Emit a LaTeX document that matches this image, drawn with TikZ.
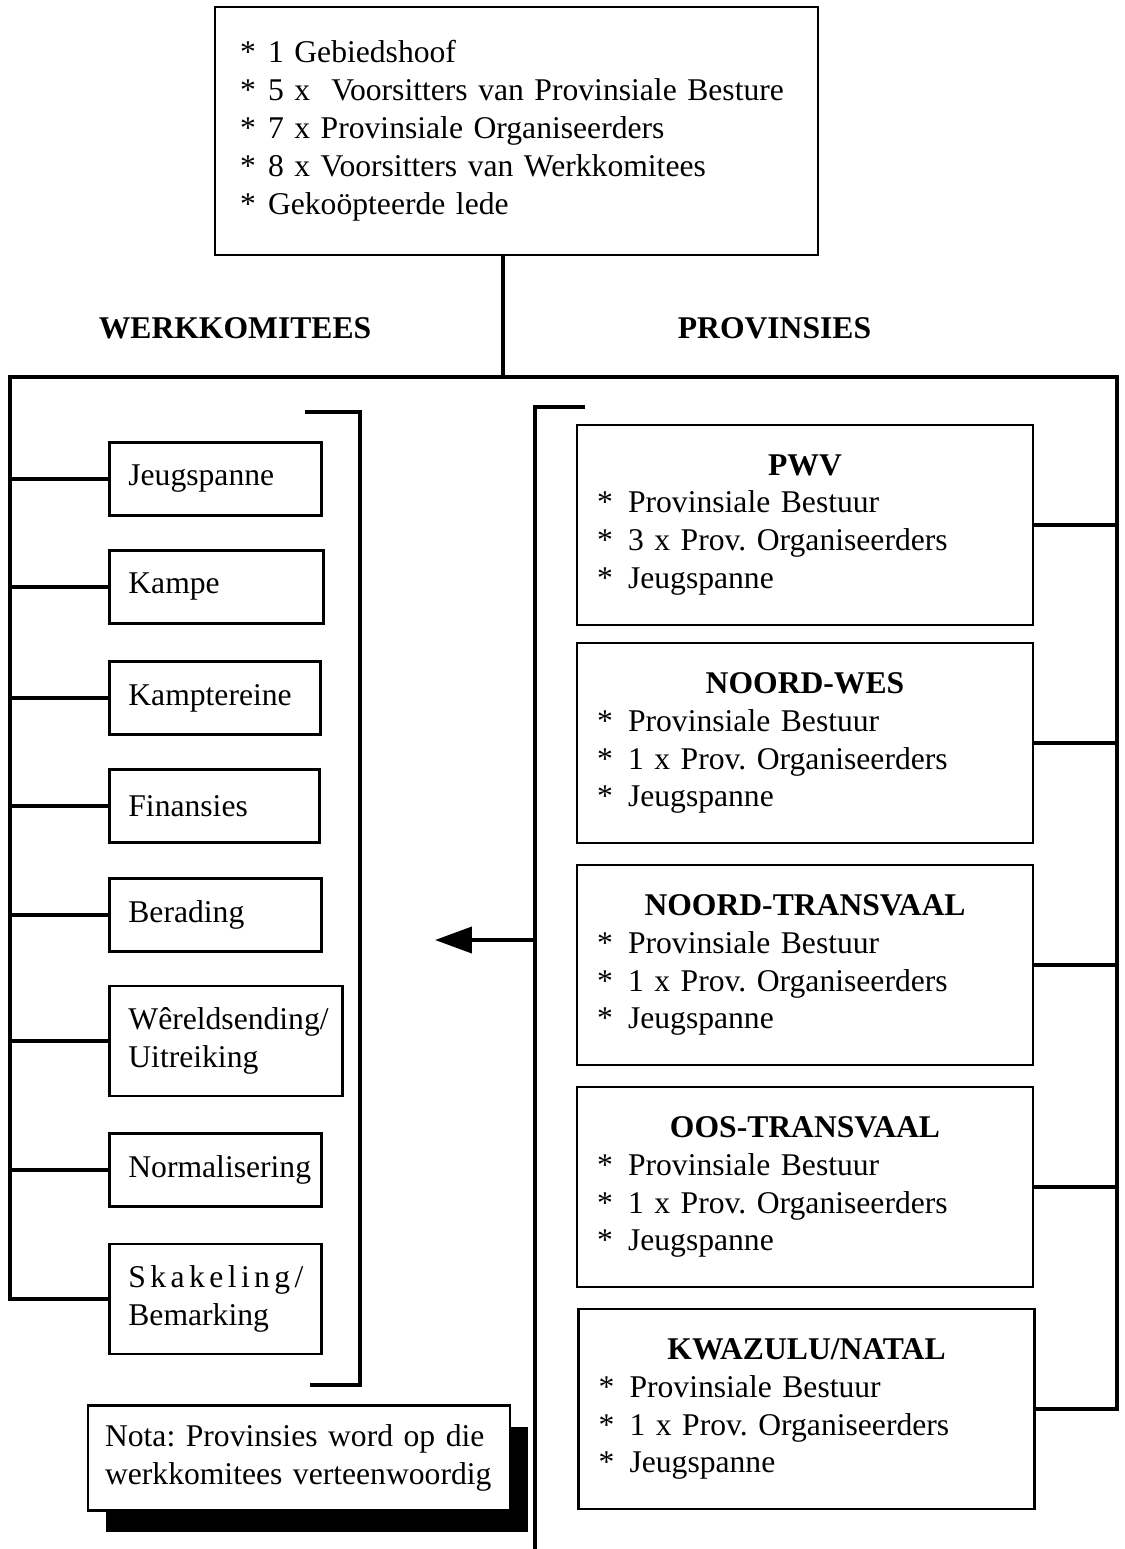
\documentclass[tikz,border=0pt]{standalone}
\usepackage{fontspec}
\setmainfont{Liberation Serif}
\usetikzlibrary{arrows.meta,shadows}
\hyphenpenalty=10000
\frenchspacing
\tikzset{
  box/.style={draw,line width=1.6pt,fill=white,inner ysep=0pt,
    font=\fontsize{18}{21.6}\selectfont},
  wbox/.style={box,anchor=west,align=left,inner xsep=0.38cm,
    text width=#1,minimum height=1.47cm},
  pbox/.style={box,minimum width=9.12cm,minimum height=4cm,align=left,
    inner xsep=0.4cm,text width=8.32cm},
  link/.style={line width=2.2pt},
  kop/.style={font=\fontsize{18}{21.6}\selectfont\bfseries}
}
\newcommand{\ster}[2][0.62cm]{\makebox[#1][l]{*}#2}
\newcommand{\provinsie}[2]{\hfill\textbf{#1}\hfill\null\\
  \ster{Provinsiale Bestuur}\\
  \ster{#2 x Prov. Organiseerders}\\
  \ster{Jeugspanne}}

\begin{document}
\begin{tikzpicture}[x=0.02cm,y=-0.02cm]
\useasboundingbox (0,0) rectangle (1125,1549);

\node[box,minimum width=12.06cm,minimum height=4.96cm,align=left,
  inner xsep=0.5cm,text width=11.06cm] (hoof) at (516.5,131) {%
  \ster[0.56cm]{1 Gebiedshoof}\\
  \ster[0.56cm]{5 x~ Voorsitters van Provinsiale Besture}\\
  \ster[0.56cm]{7 x Provinsiale Organiseerders}\\
  \ster[0.56cm]{8 x Voorsitters van Werkkomitees}\\
  \ster[0.56cm]{Gekoöpteerde lede}};

\node[kop] (werk) at (235,328) {WERKKOMITEES};
\node[kop] (prov) at (774.5,328) {PROVINSIES};

\coordinate (railL) at (10,377);
\coordinate (railR) at (1117,377);
\coordinate (hoofvoet) at (503,255);

% werkkomitees
\node[wbox=3.48cm] (jeug) at (108,479) {Jeugspanne};
\node[wbox=3.52cm] (kampe) at (108,587) {Kampe};
\node[wbox=3.46cm] (terrein) at (108,698) {Kamptereine};
\node[wbox=3.44cm] (fin) at (108,806) {Finansies};
\node[wbox=3.48cm] (berading) at (108,915) {Berading};
\node[wbox=3.9cm,minimum height=2.2cm] (wereld) at (108,1041)
  {Wêreldsending/\\Uitreiking};
\node[wbox=3.48cm] (norm) at (108,1170) {Normalisering};
\node[wbox=3.48cm,minimum height=2.2cm] (skak) at (108,1299)
  {{\addfontfeature{LetterSpace=14}Skakeling/}\\Bemarking};

% provinsies
\node[pbox] (pwv) at (805,525) {\provinsie{PWV}{3}};
\node[pbox] (nw) at (805,743) {\provinsie{NOORD-WES}{1}};
\node[pbox] (nt) at (805,965) {\provinsie{NOORD-TRANSVAAL}{1}};
\node[pbox] (ot) at (805,1187) {\provinsie{OOS-TRANSVAAL}{1}};
\node[pbox] (kzn) at (806.5,1409) {\provinsie{KWAZULU/NATAL}{1}};

\node[box,minimum width=8.44cm,minimum height=2.1cm,align=left,
  inner xsep=0.34cm,text width=7.76cm,
  drop shadow={shadow xshift=0.36cm,shadow yshift=-0.42cm,opacity=1,fill=black}]
  (nota) at (299,1458)
  {\makebox[7.76cm][s]{Nota: Provinsies word op die}\\
   \makebox[7.76cm][s]{werkkomitees verteenwoordig}};

\draw[link] (hoofvoet) -- (hoofvoet |- railL);
\draw[link] (skak.west) -| (railL) -- (railR) |- (kzn.east);
\foreach \n in {jeug,kampe,terrein,fin,berading,wereld,norm}
  \draw[link] (\n.west) -- (\n.west -| railL);
\foreach \n in {pwv,nw,nt,ot}
  \draw[link] (\n.east) -- (\n.east -| railR);

\draw[link] (305,412) -- (360,412) -- (360,1385) -- (310,1385);
\draw[link] (585,407) -- (535,407) -- (535,1549);
\coordinate (pijlbegin) at (535,940);
\coordinate (pijlend) at (435,940);
\draw[link,-{Triangle[length=0.74cm,width=0.52cm]}] (pijlbegin) -- (pijlend);
\end{tikzpicture}
\end{document}
